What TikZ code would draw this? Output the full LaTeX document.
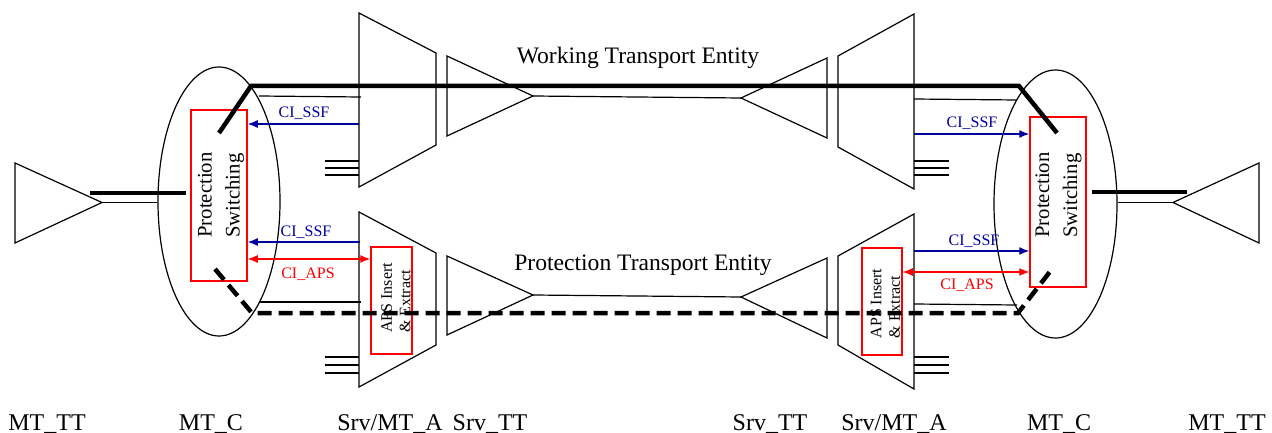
\documentclass[tikz,border=0pt]{standalone}
\usepackage{fontspec}
\setmainfont{Liberation Serif}
\usetikzlibrary{shapes.geometric,arrows.meta}
\definecolor{ssfblue}{RGB}{0,0,160}
\begin{document}
\begin{tikzpicture}[x=1pt,y=-1pt,
  wire/.style={draw=black,line width=1.2pt},
  trunk/.style={draw=black,line width=4.5pt},
  ptrunk/.style={draw=black,line width=4.5pt,dash pattern=on 14pt off 7pt},
  fn/.style={draw=black,line width=1.2pt},
  redbox/.style={draw=red,line width=1.5pt,inner sep=0pt},
  ssf/.style={draw=ssfblue,line width=1.2pt,-{Latex[length=10pt,width=8pt]}},
  aps/.style={draw=red,line width=1.2pt,{Latex[length=10pt,width=8pt]}-{Latex[length=10pt,width=8pt]}},
  ssflbl/.style={text=ssfblue,font=\fontsize{16}{18}\selectfont,anchor=base,inner sep=0pt},
  apslbl/.style={text=red,font=\fontsize{16}{18}\selectfont,anchor=base,inner sep=0pt},
  lbl/.style={font=\fontsize{24}{28}\selectfont,anchor=base,inner sep=0pt},
  ent/.style={font=\fontsize{23.6}{28}\selectfont,anchor=base,inner sep=0pt},
  pstext/.style={rotate=90,align=left,inner sep=0pt,font=\fontsize{20.7}{28}\selectfont},
  apstext/.style={rotate=90,align=left,inner sep=0pt,font=\fontsize{16}{18.5}\selectfont},
  oval/.style={ellipse,draw=black,line width=1.2pt,inner sep=0pt}
]
\useasboundingbox (0,0) rectangle (1272,433);

% ---------- left MT_TT and MT_C ----------
\coordinate (ttL) at (102,202.5);
\draw[fn] (15,163) -- (ttL) -- (15,243) -- cycle;
\node[oval,minimum width=122pt,minimum height=269pt] (cL) at (219,201.5) {};
\draw[wire] (ttL) -- (ttL -| cL.west);
\coordinate (stL1) at (90,193);
\coordinate (stL2) at (186,193);
\draw[trunk] (stL1) -- (stL2);
\node[redbox,minimum width=56pt,minimum height=171pt] (psL) at (219,195.5) {};
\node[pstext] (psLt) at (221,195) {Protection\\Switching};

% ---------- right MT_TT and MT_C ----------
\coordinate (ttR) at (1173,202.5);
\draw[fn] (1259,163) -- (ttR) -- (1259,243) -- cycle;
\node[oval,minimum width=123pt,minimum height=268pt] (cR) at (1055.5,204) {};
\draw[wire] (ttR -| cR.east) -- (ttR);
\coordinate (stR1) at (1092,192);
\coordinate (stR2) at (1187,192);
\draw[trunk] (stR1) -- (stR2);
\node[redbox,minimum width=56pt,minimum height=170pt] (psR) at (1058,202) {};
\node[pstext] (psRt) at (1058.5,195) {Protection\\Switching};

% ---------- Srv/MT_A adaptation functions ----------
\draw[fn] (359,13) -- (436,53) -- (436,145) -- (359,187) -- cycle;
\draw[fn] (359,212) -- (436,253) -- (436,345) -- (359,387) -- cycle;
\draw[fn] (914,14) -- (838,56) -- (838,147) -- (914,189) -- cycle;
\draw[fn] (914,214) -- (838,256) -- (838,345) -- (914,389) -- cycle;
\foreach \yy in {161,168,175,357,365,373}{
  \draw[wire] (325,\yy) -- (359,\yy);
  \draw[wire] (914,\yy) -- (949,\yy);
}

% ---------- APS insert & extract ----------
\node[redbox,minimum width=41pt,minimum height=107pt] (apsL) at (391.5,300.5) {};
\node[apstext] (apsLt) at (396,298) {APS Insert\\\& Extract};
\node[redbox,minimum width=40pt,minimum height=107pt] (apsR) at (882,301.5) {};
\node[apstext] (apsRt) at (885.5,303.5) {APS Insert\\\& Extract};

% ---------- Srv_TT trail terminations ----------
\coordinate (sttWL) at (533,96);
\coordinate (sttWR) at (741,98);
\coordinate (sttPL) at (533,295);
\coordinate (sttPR) at (741,297);
\draw[fn] (447,56) -- (sttWL) -- (447,136) -- cycle;
\draw[fn] (447,256) -- (sttPL) -- (447,335) -- cycle;
\draw[fn] (827,58) -- (sttWR) -- (827,138) -- cycle;
\draw[fn] (827,258) -- (sttPR) -- (827,338) -- cycle;
\draw[wire] (sttWL) -- (sttWR);
\draw[wire] (sttPL) -- (sttPR);

% ---------- thin links to the connection functions ----------
\coordinate (lkL1) at (259,96);  \coordinate (lkL1e) at (361,97);
\coordinate (lkL2) at (259,302); \coordinate (lkL2e) at (361,302);
\coordinate (lkR1) at (914,99);  \coordinate (lkR1e) at (1017,100);
\coordinate (lkR2) at (914,304); \coordinate (lkR2e) at (1017,305);
\draw[wire] (lkL1) -- (lkL1e);
\draw[wire] (lkL2) -- (lkL2e);
\draw[wire] (lkR1) -- (lkR1e);
\draw[wire] (lkR2) -- (lkR2e);

% ---------- working and protection transport entities ----------
\coordinate (wL0) at (219,133);
\coordinate (wL1) at (251,86);
\coordinate (wR1) at (1019,86);
\coordinate (wR0) at (1057,133);
\draw[trunk] (wL0) -- (wL1) -- (wR1) -- (wR0);
\coordinate (pL0) at (215,269);
\coordinate (pL1) at (252,313);
\coordinate (pR1) at (1018,313);
\coordinate (pR0) at (1052,269);
\draw[ptrunk] (pL0) -- (pL1) -- (pR1) -- (pR0);

\node[ent] (wte) at (638,64) {Working Transport Entity};
\node[ent] (pte) at (643,270) {Protection Transport Entity};

% ---------- CI signals ----------
\coordinate (sL1) at (359,124);
\coordinate (sL2) at (360,242);
\coordinate (aLy) at (300,259);
\draw[ssf] (sL1) -- (sL1 -| psL.east);
\draw[ssf] (sL2) -- (sL2 -| psL.east);
\draw[aps] (aLy -| psL.east) -- (aLy -| apsL.west);
\node[ssflbl] (ssfL1) at (304,118) {CI\_SSF};
\node[ssflbl] (ssfL2) at (306,236) {CI\_SSF};
\node[apslbl] (apsLl) at (308,278) {CI\_APS};

\coordinate (sR1) at (914,134);
\coordinate (sR2) at (914,251);
\coordinate (aRy) at (960,272);
\draw[ssf] (sR1) -- (sR1 -| psR.west);
\draw[ssf] (sR2) -- (sR2 -| psR.west);
\draw[aps] (aRy -| apsR.east) -- (aRy -| psR.west);
\node[ssflbl] (ssfR1) at (972,128) {CI\_SSF};
\node[ssflbl] (ssfR2) at (974,245) {CI\_SSF};
\node[apslbl] (apsRl) at (967,289) {CI\_APS};

% ---------- bottom labels ----------
\node[lbl] (b1) at (47,430) {MT\_TT};
\node[lbl] (b2) at (211,430) {MT\_C};
\node[lbl] (b3) at (390,430) {Srv/MT\_A};
\node[lbl] (b4) at (490,430) {Srv\_TT};
\node[lbl] (b5) at (770,430) {Srv\_TT};
\node[lbl] (b6) at (894,430) {Srv/MT\_A};
\node[lbl] (b7) at (1059,430) {MT\_C};
\node[lbl] (b8) at (1227,430) {MT\_TT};
\end{tikzpicture}
\end{document}
